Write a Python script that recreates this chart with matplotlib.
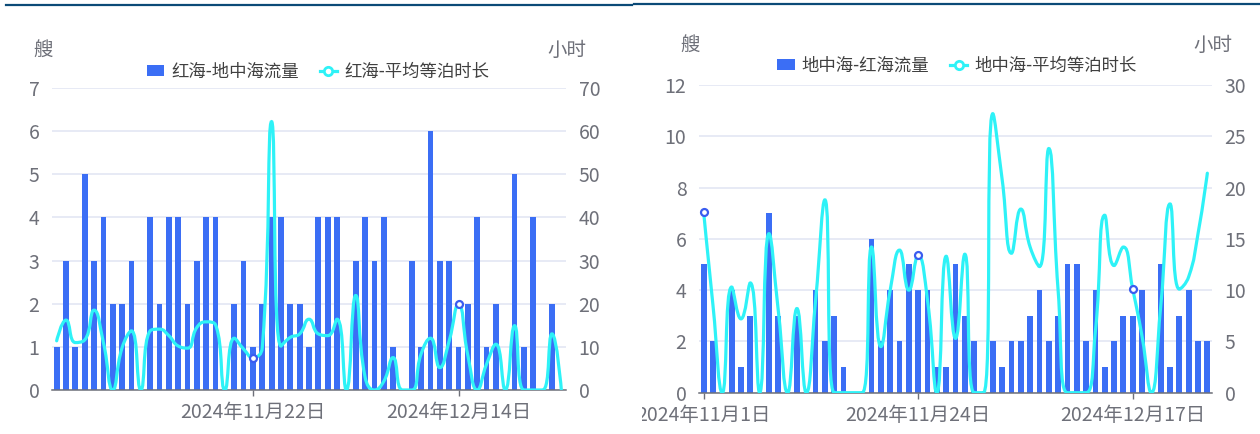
import numpy as np
import pandas as pd
import matplotlib
matplotlib.use('Agg')
import matplotlib.pyplot as plt
from matplotlib.path import Path
from matplotlib.patches import PathPatch, Patch, Rectangle
from matplotlib.lines import Line2D

plt.rcParams['font.family'] = ['Noto Sans CJK SC', 'DejaVu Sans']

# categories: one per day
dates = [d.strftime('%Y年%-m月%-d日') for d in pd.date_range('2024-11-01', '2024-12-25')]

# left panel: 红海 -> 地中海
red_flow = [1, 3, 1, 5, 3, 4, 2, 2, 3, 0,
            4, 2, 4, 4, 2, 3, 4, 4, 0, 2,
            3, 1, 2, 4, 4, 2, 2, 1, 4, 4,
            4, 0, 3, 4, 3, 4, 1, 0, 3, 1,
            6, 3, 3, 1, 2, 4, 1, 2, 0, 5,
            1, 4, 0, 2, 0]
red_wait = [11.4, 16.2, 11, 11.6, 18.5, 11, 0, 9.8, 13.7, 0,
            13.7, 14.1, 12.6, 10.2, 9.7, 14.5, 15.8, 15.1, 0, 12,
            9.5, 7.5, 9.8, 62.2, 10.2, 12.2, 13, 16.4, 13, 12.6,
            16.4, 0, 21.9, 3, 0, 2, 7.5, 0, 0, 8.4,
            12, 5.2, 11.4, 20, 8, 0, 6, 10.6, 0, 14.9,
            0, 0, 0, 13, 0]

# right panel: 地中海 -> 红海
med_flow = [5, 2, 0, 4, 1, 3, 0, 7, 3, 0,
            3, 0, 4, 2, 3, 1, 0, 0, 6, 2,
            4, 2, 5, 4, 4, 1, 1, 5, 3, 2,
            0, 2, 1, 2, 2, 3, 4, 2, 3, 5,
            5, 2, 4, 1, 2, 3, 3, 4, 0, 5,
            1, 3, 4, 2, 2]
med_wait = [17.6, 8.5, 0, 10.3, 7.2, 10.7, 0, 15.5, 8, 0,
            8.2, 0, 9, 18.8, 0, 0, 0, 0, 14.2, 4.5,
            10, 13.9, 10, 13.4, 9, 0, 13.3, 5.3, 13.5, 0,
            0, 27.2, 20.8, 13.6, 17.9, 14.2, 12.3, 23.8, 10, 0,
            0, 0, 6, 17.3, 12.4, 14.2, 10.1, 5.5, 0, 8.4,
            18.4, 10.1, 11.3, 15.5, 21.4]

BLUE = '#3b6ef5'
CYAN = '#2ef2f7'
GRID = '#e3e6f3'
GRAY = '#6e7079'

W, H = 1260, 434
fig = plt.figure(figsize=(W / 100, H / 100), dpi=100)


def px_axes(x0, x1, ytop, ybot):
    return fig.add_axes([x0 / W, (H - ybot) / H, (x1 - x0) / W, (ybot - ytop) / H])


def smooth_line(ax, xs, ys, smooth=0.5, **kw):
    # echarts-style smoothed polyline (control points clamped between neighbours)
    pts = ax.transData.transform(np.column_stack([xs, ys]))
    verts = [tuple(pts[0])]
    codes = [Path.MOVETO]
    cp0 = tuple(pts[0])
    n = len(pts)
    clamp = lambda v, a, b: min(max(v, min(a, b)), max(a, b))
    for i in range(1, n):
        x, y = pts[i]
        px, py = pts[i - 1]
        if i == n - 1:
            cp1 = (x, y)
            ncp0 = (x, y)
        else:
            nx, ny = pts[i + 1]
            vx, vy = nx - px, ny - py
            l0 = np.hypot(x - px, y - py)
            l1 = np.hypot(nx - x, ny - y)
            r = l1 / (l0 + l1)
            ncx = clamp(x + vx * smooth * r, x, nx)
            ncy = clamp(y + vy * smooth * r, y, ny)
            vx, vy = ncx - x, ncy - y
            c1x = clamp(x - vx * l0 / l1, px, x)
            c1y = clamp(y - vy * l0 / l1, py, y)
            vx, vy = x - c1x, y - c1y
            cp1 = (c1x, c1y)
            ncp0 = (x + vx * l1 / l0, y + vy * l1 / l0)
        verts += [cp0, cp1, (x, y)]
        codes += [Path.CURVE4] * 3
        cp0 = ncp0
    data = ax.transData.inverted().transform(np.array(verts))
    ax.add_patch(PathPatch(Path(data, codes), fill=False, **kw))


def panel(box, flow, wait, ymax, ystep, y2max, y2step, tick_idx, marks,
          names, legend_xy, clip_x=None):
    ax = px_axes(*box)
    x = np.arange(len(flow))
    ax.bar(x, flow, width=0.62, color=BLUE, zorder=2)
    ax.set_xlim(-0.5, len(flow) - 0.5)
    ax.set_ylim(0, ymax)
    ax.set_yticks(np.arange(0, ymax + 0.1, ystep))
    ax.grid(axis='y', color=GRID, lw=1.2, zorder=0)
    ax.set_axisbelow(True)
    for s in ['top', 'left', 'right']:
        ax.spines[s].set_visible(False)
    ax.spines['bottom'].set_color(GRAY)
    ax.spines['bottom'].set_linewidth(1.1)
    ax.set_xticks(tick_idx)
    ax.set_xticklabels([dates[i] for i in tick_idx])
    ax.tick_params(axis='x', colors=GRAY, labelsize=14, length=4, width=1, pad=4.5)
    ax.tick_params(axis='y', colors=GRAY, labelsize=14, length=0, pad=9)
    for t in ax.get_yticklabels() + ax.get_xticklabels():
        t.set_color(GRAY)

    ax2 = ax.twinx()
    ax2.set_ylim(0, y2max)
    ax2.set_yticks(np.arange(0, y2max + 0.1, y2step))
    for s in ax2.spines.values():
        s.set_visible(False)
    ax2.tick_params(axis='y', colors=GRAY, labelsize=14, length=0, pad=9)
    smooth_line(ax2, x, wait, color=CYAN, lw=2.3, zorder=3, capstyle='round')
    ax2.plot(marks, [wait[i] for i in marks], ls='none', marker='o', ms=5,
             mfc='white', mec='#3a5cf0', mew=1.6, zorder=4, clip_on=False)

    if clip_x is not None:
        rect = Rectangle((clip_x, 0), W - clip_x, H, transform=None)
        for t in ax.get_xticklabels():
            t.set_clip_path(rect)

    # axis names
    fig.text(box[0] - 9, names[2], names[0], fontsize=14, color=GRAY,
             ha='center', va='center', transform=None)
    fig.text(box[1] + 1, names[2], names[1], fontsize=14, color=GRAY,
             ha='center', va='center', transform=None)

    handles = [Patch(facecolor=BLUE, edgecolor='none'),
               Line2D([], [], color=CYAN, lw=2.3, marker='o', ms=6,
                      mfc='white', mec=CYAN, mew=2)]
    fig.legend(handles, legend_xy[2], loc='center',
               bbox_to_anchor=(legend_xy[0] / W, 1 - legend_xy[1] / H),
               ncol=2, frameon=False, fontsize=12.5, handlelength=1.0,
               handleheight=0.6, handletextpad=0.4, columnspacing=1.2,
               labelcolor='#404040')
    return ax, ax2


panel((52, 566, 88, 390), red_flow, red_wait, 7, 1, 70, 10, [21, 43], [21, 43],
      ('艘', '小时', 384), (318, 72, ['红海-地中海流量', '红海-平均等泊时长']))
panel((699, 1212, 85, 392.7), med_flow, med_wait, 12, 2, 30, 5, [0, 23, 46], [0, 23, 46],
      ('艘', '小时', 389), (957, 66, ['地中海-红海流量', '地中海-平均等泊时长']),
      clip_x=642)

# header rule
fig.add_artist(Line2D([6 / W, 632 / W], [1 - 5 / H, 1 - 5 / H], color='#0b4a77', lw=1.6))
fig.add_artist(Line2D([634 / W, 1.0], [1 - 4 / H, 1 - 4 / H], color='#0b4a77', lw=1.6))

fig.savefig('out.png', dpi=100)
